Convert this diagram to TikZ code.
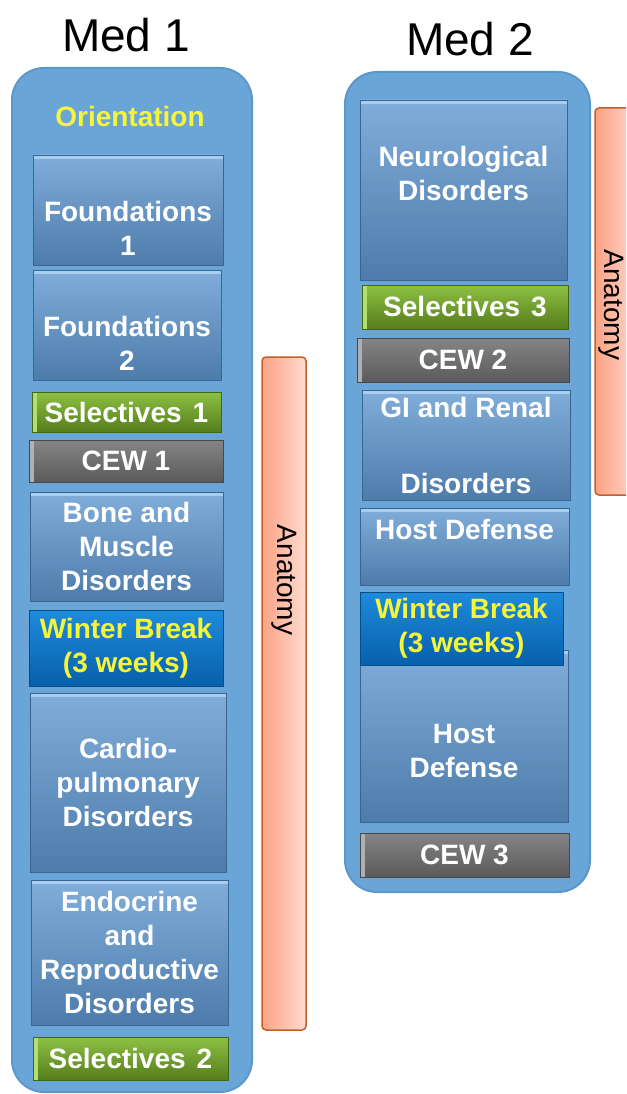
\documentclass[tikz,border=0pt]{standalone}
\usepackage{fontspec}
\setmainfont{Liberation Sans}
\usetikzlibrary{positioning}
\definecolor{PanelBlue}{HTML}{6AA5D7}
\definecolor{PanelEdge}{HTML}{5A97CC}
\definecolor{TopicTop}{HTML}{80ADDA}
\definecolor{TopicBot}{HTML}{4E7CAA}
\definecolor{TopicEdge}{HTML}{3A6591}
\definecolor{TopicHi}{HTML}{A6CFF2}
\definecolor{SelTop}{HTML}{8DC043}
\definecolor{SelBot}{HTML}{557D1B}
\definecolor{SelHi}{HTML}{B5DE72}
\definecolor{CewTop}{HTML}{858585}
\definecolor{CewBot}{HTML}{5A5A5A}
\definecolor{CewHi}{HTML}{B0B0B0}
\definecolor{BreakTop}{HTML}{1E8BDC}
\definecolor{BreakBot}{HTML}{0760AC}
\definecolor{AnatL}{HTML}{FBA285}
\definecolor{AnatR}{HTML}{FFDCD0}
\definecolor{AnatEdge}{HTML}{C2602C}
\definecolor{Yel}{HTML}{F5F53A}
\newcommand{\boxfont}{\fontsize{28}{34}\selectfont\bfseries}

\begin{document}
\begin{tikzpicture}[x=1pt,y=-1pt,
panel/.style={draw=PanelEdge,line width=2pt,fill=PanelBlue,rounded corners=32pt},
course/.style={draw=TopicEdge,line width=0.8pt,inner sep=0pt,align=center,text=white,font=\boxfont},
topic/.style={course,top color=TopicTop,bottom color=TopicBot,
  path picture={\fill[TopicHi] (path picture bounding box.north west) rectangle ([yshift=-4pt]path picture bounding box.north east);}},
sel/.style={course,draw=SelBot!80!black,top color=SelTop,bottom color=SelBot,
  path picture={\fill[SelHi] (path picture bounding box.north west) rectangle ([xshift=5pt]path picture bounding box.south west);}},
cew/.style={course,draw=CewBot!80!black,top color=CewTop,bottom color=CewBot,
  path picture={\fill[CewHi] (path picture bounding box.north west) rectangle ([xshift=5pt]path picture bounding box.south west);}},
winter/.style={course,draw=BreakBot!80!black,top color=BreakTop,bottom color=BreakBot,text=Yel},
anat/.style={draw=AnatEdge,line width=1.5pt,left color=AnatL,right color=AnatR,rounded corners=4pt},
title/.style={font=\fontsize{46}{50}\selectfont,anchor=base}]
\path[use as bounding box] (0,0) rectangle (626,1094);
\clip (0,0) rectangle (626,1094);
% anatomy bars
\path[anat] (262,357) rectangle (306,1030);
\node[rotate=-90,font=\fontsize{28}{34}\selectfont] (anat1) at (284,580) {Anatomy};
\path[anat] (595,108) rectangle (640,495);
\node[rotate=-90,font=\fontsize{28}{34}\selectfont] (anat2) at (611,305) {Anatomy};
% Med 1
\node[title] (med1) at (126,52) {Med 1};
\path[panel] (12,68) rectangle (252,1092);
\node[font=\boxfont,text=Yel,anchor=base] (orient) at (130,127) {Orientation};
\node[topic,minimum width=190pt,minimum height=110pt] (fnd1) at (128,210) {\mbox{}\\[22pt]Foundations\\1};
\node[topic,minimum width=188pt,minimum height=110pt] (fnd2) at (127,325) {\mbox{}\\[22pt]Foundations\\2};
\node[sel,minimum width=189pt,minimum height=40pt] (sel1) at (126.5,412) {Selectives\hspace{11pt}1};
\node[cew,minimum width=194pt,minimum height=42pt] (cew1) at (126,461) {CEW 1};
\node[topic,minimum width=193pt,minimum height=109pt] (bone) at (126.5,546.5) {Bone and\\Muscle\\Disorders};
\node[winter,minimum width=194pt,minimum height=76pt] (wb1) at (126,648) {Winter Break\\(3 weeks)};
\node[topic,minimum width=196pt,minimum height=179pt] (cardio) at (128,782.5) {Cardio-\\pulmonary\\Disorders};
\node[topic,minimum width=197pt,minimum height=145pt] (endo) at (129.5,952.5) {Endocrine\\and\\Reproductive\\Disorders};
\node[sel,minimum width=195pt,minimum height=43pt] (sel2) at (130.5,1058.5) {Selectives\hspace{11pt}2};
% Med 2
\node[title] (med2) at (470,56) {Med 2};
\path[panel] (345,72) rectangle (590,892);
\node[topic,minimum width=207pt,minimum height=180pt] (neuro) at (463.5,190) {Neurological\\Disorders\\\mbox{}};
\node[sel,minimum width=206pt,minimum height=44pt] (sel3) at (465,307) {Selectives\hspace{11pt}3};
\node[cew,minimum width=212pt,minimum height=44pt] (cew2) at (463,360) {CEW 2};
\node[topic,minimum width=208pt,minimum height=110pt] (gi) at (466,445) {GI and Renal\\[4pt]\mbox{}\\[4pt]Disorders};
\node[topic,minimum width=209pt,minimum height=77pt] (host1) at (464.5,546.5) {Host Defense\\\mbox{}};
\node[topic,minimum width=208pt,minimum height=172pt] (host2) at (464,736) {\mbox{}\\[16pt]Host\\Defense};
\node[winter,minimum width=203pt,minimum height=73pt] (wb2) at (461.5,628.5) {Winter Break\\(3 weeks)};
\node[cew,minimum width=209pt,minimum height=44pt] (cew3) at (464.5,855) {CEW 3};
\end{tikzpicture}
\end{document}
